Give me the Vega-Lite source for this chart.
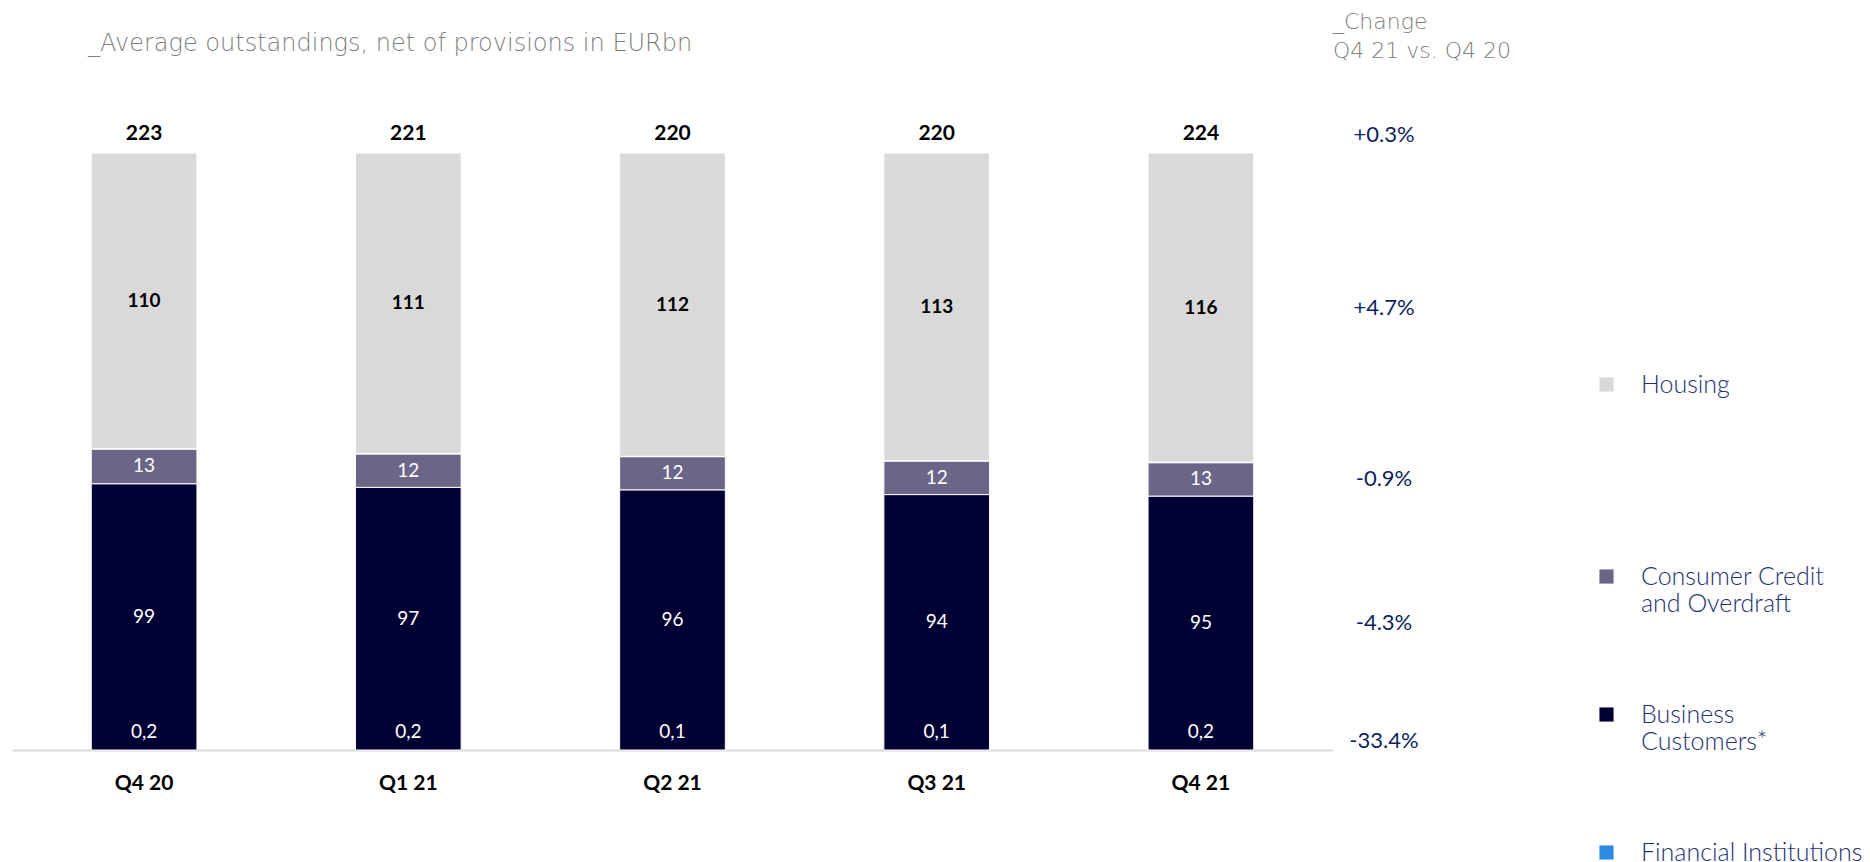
{
  "$schema": "https://vega.github.io/schema/vega-lite/v6.json",
  "background": "white",
  "padding": {"left": 12, "top": 11, "right": 0, "bottom": 0},
  "config": {
    "view": {"stroke": null},
    "locale": {"number": {"decimal": ",", "thousands": ".", "grouping": [3], "currency": ["", " €"]}}
  },
  "datasets": {
    "loans": [
      {"quarter": "Q4 20", "category": "Housing", "amount": 110.4, "change": "+4.7%"},
      {"quarter": "Q4 20", "category": "Consumer Credit and Overdraft", "amount": 13.0, "change": "-0.9%"},
      {"quarter": "Q4 20", "category": "Business Customers*", "amount": 99.4, "change": "-4.3%"},
      {"quarter": "Q4 20", "category": "Financial Institutions", "amount": 0.2, "change": "-33.4%"},
      {"quarter": "Q1 21", "category": "Housing", "amount": 111.2, "change": "+4.7%"},
      {"quarter": "Q1 21", "category": "Consumer Credit and Overdraft", "amount": 12.4, "change": "-0.9%"},
      {"quarter": "Q1 21", "category": "Business Customers*", "amount": 97.2, "change": "-4.3%"},
      {"quarter": "Q1 21", "category": "Financial Institutions", "amount": 0.2, "change": "-33.4%"},
      {"quarter": "Q2 21", "category": "Housing", "amount": 111.8, "change": "+4.7%"},
      {"quarter": "Q2 21", "category": "Consumer Credit and Overdraft", "amount": 12.3, "change": "-0.9%"},
      {"quarter": "Q2 21", "category": "Business Customers*", "amount": 95.8, "change": "-4.3%"},
      {"quarter": "Q2 21", "category": "Financial Institutions", "amount": 0.1, "change": "-33.4%"},
      {"quarter": "Q3 21", "category": "Housing", "amount": 113.4, "change": "+4.7%"},
      {"quarter": "Q3 21", "category": "Consumer Credit and Overdraft", "amount": 12.4, "change": "-0.9%"},
      {"quarter": "Q3 21", "category": "Business Customers*", "amount": 94.1, "change": "-4.3%"},
      {"quarter": "Q3 21", "category": "Financial Institutions", "amount": 0.1, "change": "-33.4%"},
      {"quarter": "Q4 21", "category": "Housing", "amount": 116.0, "change": "+4.7%"},
      {"quarter": "Q4 21", "category": "Consumer Credit and Overdraft", "amount": 12.6, "change": "-0.9%"},
      {"quarter": "Q4 21", "category": "Business Customers*", "amount": 95.2, "change": "-4.3%"},
      {"quarter": "Q4 21", "category": "Financial Institutions", "amount": 0.2, "change": "-33.4%"}
    ],
    "total": [{"label": "Total", "change": "+0.3%"}]
  },
  "bounds": "flush",
  "spacing": 0,
  "hconcat": [
    {
      "width": 1321,
      "height": 597,
      "title": {"text": "_Average outstandings, net of provisions in EURbn", "anchor": "start", "frame": "group", "dx": 76, "offset": 67, "fontSize": 24, "font": "DejaVu Sans", "fontWeight": 200, "color": "#808080"},
      "data": {"name": "loans"},
      "layer": [
        {
          "mark": {"type": "bar", "stroke": "#ffffff", "strokeWidth": 1},
          "encoding": {
            "x": {"field": "quarter", "type": "nominal", "sort": null,
              "scale": {"domain": ["Q4 20", "Q1 21", "Q2 21", "Q3 21", "Q4 21"], "paddingInner": 0.6, "paddingOuter": 0.3},
              "axis": {"title": null, "domainColor": "#d9d9d9", "domainWidth": 2, "ticks": false, "labelAngle": 0, "labelFont": "Lato", "labelFontWeight": "bold", "labelFontSize": 21, "labelColor": "#000000", "labelPadding": 22, "grid": false}},
            "y": {"field": "amount", "type": "quantitative", "stack": "normalize", "scale": {"domain": [0, 1]}, "axis": null},
            "color": {"field": "category", "type": "nominal",
              "scale": {"domain": ["Housing", "Consumer Credit and Overdraft", "Business Customers*", "Financial Institutions"], "range": ["#d9d9d9", "#6b6588", "#000033", "#2e8be3"]},
              "legend": {"title": null, "orient": "none", "legendX": 1582, "legendY": 219, "symbolType": "square", "symbolSize": 200, "symbolStrokeWidth": 0, "labelFont": "Lato", "labelFontWeight": 300, "labelFontSize": 25, "labelColor": "#1f3270", "labelOffset": 22, "rowPadding": 85, "labelLimit": 500,
                "labelExpr": "datum.label == 'Housing' ? ['Housing', '', '', ''] : datum.label == 'Consumer Credit and Overdraft' ? ['Consumer Credit', 'and Overdraft'] : datum.label == 'Business Customers*' ? ['Business', 'Customers*'] : datum.label"}},
            "order": {"field": "category", "sort": "ascending"}
          }
        },
        {
          "transform": [
            {"stack": "amount", "groupby": ["quarter"], "sort": [{"field": "category", "order": "ascending"}], "offset": "normalize", "as": ["s0", "s1"]},
            {"fold": ["s0", "s1"], "as": ["edge", "pos"]},
            {"filter": "datum.category == 'Housing'"}
          ],
          "mark": {"type": "text", "font": "Lato", "fontWeight": "bold", "fontSize": 19, "color": "#000000", "baseline": "middle"},
          "encoding": {
            "x": {"field": "quarter", "type": "nominal", "sort": null},
            "y": {"aggregate": "mean", "field": "pos", "type": "quantitative", "stack": null},
            "detail": {"field": "category"},
            "text": {"aggregate": "max", "field": "amount", "type": "quantitative", "format": ".0f"}
          }
        },
        {
          "transform": [
            {"stack": "amount", "groupby": ["quarter"], "sort": [{"field": "category", "order": "ascending"}], "offset": "normalize", "as": ["s0", "s1"]},
            {"fold": ["s0", "s1"], "as": ["edge", "pos"]},
            {"filter": "datum.category == 'Consumer Credit and Overdraft' || datum.category == 'Business Customers*'"}
          ],
          "mark": {"type": "text", "font": "Lato", "fontSize": 19, "color": "#ffffff", "baseline": "middle"},
          "encoding": {
            "x": {"field": "quarter", "type": "nominal", "sort": null},
            "y": {"aggregate": "mean", "field": "pos", "type": "quantitative", "stack": null},
            "detail": {"field": "category"},
            "text": {"aggregate": "max", "field": "amount", "type": "quantitative", "format": ".0f"}
          }
        },
        {
          "transform": [{"filter": "datum.category == 'Financial Institutions'"}],
          "mark": {"type": "text", "font": "Lato", "fontSize": 19, "color": "#ffffff", "baseline": "middle", "dy": -18},
          "encoding": {
            "x": {"field": "quarter", "type": "nominal", "sort": null},
            "y": {"datum": 0},
            "text": {"field": "amount", "type": "quantitative", "format": ".1f"}
          }
        },
        {
          "mark": {"type": "text", "font": "Lato", "fontWeight": "bold", "fontSize": 21, "color": "#000000", "baseline": "bottom", "dy": -9},
          "encoding": {
            "x": {"field": "quarter", "type": "nominal", "sort": null},
            "y": {"datum": 1},
            "text": {"aggregate": "sum", "field": "amount", "type": "quantitative", "format": ".0f"}
          }
        }
      ]
    },
    {
      "width": 102,
      "height": 597,
      "title": {"text": ["_Change", "Q4 21 vs. Q4 20"], "anchor": "start", "frame": "group", "offset": 61, "fontSize": 22, "font": "DejaVu Sans", "fontWeight": 200, "color": "#808080", "lineHeight": 29},
      "layer": [
        {
          "data": {"name": "loans"},
          "transform": [
            {"filter": "datum.quarter == 'Q4 21'"},
            {"stack": "amount", "groupby": ["quarter"], "sort": [{"field": "category", "order": "ascending"}], "offset": "normalize", "as": ["s0", "s1"]},
            {"fold": ["s0", "s1"], "as": ["edge", "pos"]},
            {"filter": "datum.category != 'Financial Institutions'"}
          ],
          "mark": {"type": "text", "font": "Lato", "fontSize": 22, "color": "#0c1f5c", "baseline": "middle"},
          "encoding": {
            "y": {"aggregate": "mean", "field": "pos", "type": "quantitative", "stack": null, "scale": {"domain": [0, 1]}, "axis": null},
            "detail": {"field": "category"},
            "text": {"field": "change", "type": "nominal"}
          }
        },
        {
          "data": {"name": "loans"},
          "transform": [{"filter": "datum.quarter == 'Q4 21' && datum.category == 'Financial Institutions'"}],
          "mark": {"type": "text", "font": "Lato", "fontSize": 22, "color": "#0c1f5c", "baseline": "middle", "dy": -9},
          "encoding": {
            "y": {"datum": 0},
            "text": {"field": "change", "type": "nominal"}
          }
        },
        {
          "data": {"name": "total"},
          "mark": {"type": "text", "font": "Lato", "fontSize": 22, "color": "#0c1f5c", "baseline": "middle", "dy": -18},
          "encoding": {
            "y": {"datum": 1},
            "text": {"field": "change", "type": "nominal"}
          }
        }
      ]
    }
  ]
}
